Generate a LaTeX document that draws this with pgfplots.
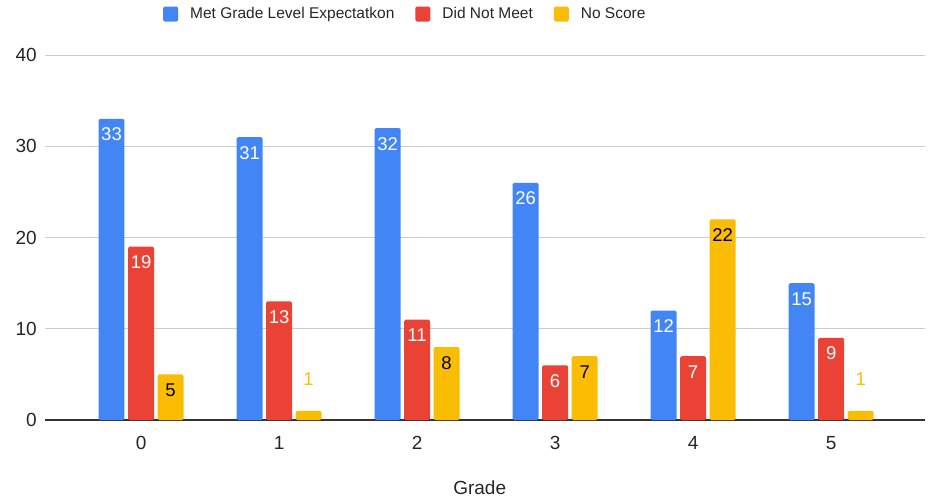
\documentclass[border=0pt]{standalone}
\usepackage{pgfplots}
\pgfplotsset{compat=1.18}
\usepackage{fontspec}
\setmainfont{Liberation Sans}
\definecolor{gblue}{HTML}{4285F4}
\definecolor{gred}{HTML}{EA4335}
\definecolor{gyellow}{HTML}{FBBC04}
\definecolor{ggrid}{HTML}{CCCCCC}
\definecolor{gaxis}{HTML}{333333}
\pgfplotsset{
  sq/.style={legend image code/.code={\fill[#1,rounded corners=1.5pt] (0pt,-7.5pt) rectangle (15pt,7.5pt);}},
  inlab/.style={nodes near coords, nodes near coords align=below,
    every node near coord/.append style={text=#1, inner sep=0pt, yshift=-9pt, font=\fontsize{18.5}{20}\selectfont}},
}
\begin{document}
\begin{tikzpicture}
\useasboundingbox (0,0) rectangle (928pt,498pt);
\begin{axis}[
  at={(45pt,78pt)}, anchor=south west,
  scale only axis, width=880pt, height=365pt,
  xmin=-0.696, xmax=5.68, ymin=0, ymax=40,
  ytick={0,10,20,30,40}, xtick={0,1,2,3,4,5},
  axis lines*=left,
  y axis line style={draw=none},
  x axis line style={gaxis, line width=1.3pt},
  ymajorgrids, grid style={ggrid, line width=0.9pt},
  major tick length=0pt,
  /pgf/number format/assume math mode=true,
  ticklabel style={font=\fontsize{19}{22}\selectfont, text=black!85},
  yticklabel style={anchor=east, inner sep=0pt, xshift=-8pt},
  xticklabel style={anchor=north, inner sep=0pt, yshift=-16pt},
  xlabel={Grade},
  xlabel style={at={(axis description cs:0.494,-0.203)}, anchor=base, inner sep=0pt, font=\fontsize{19}{22}\selectfont, text=black!85},
  ybar, bar width=0.188,
  legend columns=-1,
  legend style={at={(0.1341,1.1123)}, anchor=west, draw=none, fill=none, inner sep=0pt,
    font=\fontsize{15.5}{18}\selectfont, text=black!85,
    nodes={inner sep=0pt},
    /tikz/every odd column/.append style={column sep=12pt},
    /tikz/every even column/.append style={column sep=21pt}},
]
\addplot[fill=gblue, draw=none, rounded corners=1.5pt, bar shift=-0.214, sq=gblue, inlab=white]
  coordinates {(0,33) (1,31) (2,32) (3,26) (4,12) (5,15)};
\addlegendentry{Met Grade Level Expectatkon}
\addplot[fill=gred, draw=none, rounded corners=1.5pt, bar shift=0, sq=gred, inlab=white]
  coordinates {(0,19) (1,13) (2,11) (3,6) (4,7) (5,9)};
\addlegendentry{Did Not Meet}
\addplot[fill=gyellow, draw=none, rounded corners=1.5pt, bar shift=0.214, sq=gyellow, inlab=black]
  coordinates {(0,5) (2,8) (3,7) (4,22)};
\addlegendentry{No Score}
\addplot[fill=gyellow, draw=none, rounded corners=1.5pt, bar shift=0.214, forget plot,
  nodes near coords, nodes near coords align=above,
  every node near coord/.append style={text=gyellow, inner sep=0pt, yshift=25pt, font=\fontsize{18.5}{20}\selectfont}]
  coordinates {(1,1) (5,1)};
\end{axis}
\end{tikzpicture}
\end{document}
